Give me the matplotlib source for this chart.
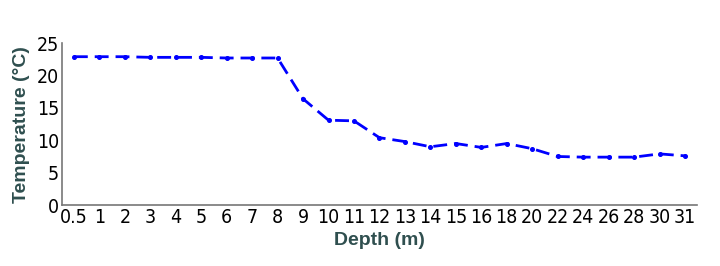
import matplotlib.pyplot as plt
from matplotlib import font_manager

# Data
depths = ['0.5', '1', '2', '3', '4', '5', '6', '7', '8', '9', '10', '11', '12', '13',
          '14', '15', '16', '18', '20', '22', '24', '26', '28', '30', '31']
temps = [22.9, 22.9, 22.9, 22.8, 22.8, 22.8, 22.7, 22.7, 22.7, 16.4, 13.1, 13.0, 10.4, 9.8,
         9.0, 9.5, 8.9, 9.5, 8.7, 7.5, 7.4, 7.4, 7.4, 7.9, 7.6]

# prefer a narrow face if one is installed
fonts = font_manager.fontManager.ttflist
narrow = [f for f in fonts if 'Narrow' in f.name or f.stretch == 'condensed']
tick_font = None
if narrow:
    pick = [f for f in narrow if f.weight in (400, 'normal') and f.style == 'normal']
    if pick:
        tick_font = font_manager.FontProperties(fname=pick[0].fname, size=14)
plt.rcParams['font.family'] = ['Liberation Sans', 'DejaVu Sans']

fig = plt.figure(figsize=(7.2, 2.66), dpi=100)
ax = fig.add_axes([0.086, 0.229, 0.882, 0.609])

x = list(range(len(depths)))
ax.plot(x, temps, color='#0000ff', linestyle=(0, (5, 2.5)), linewidth=2,
        marker='o', markersize=2.6)

ax.set_xlim(-0.47, len(depths) - 0.53)
ax.set_ylim(0, 25)
ax.set_xticks(x)
ax.set_xticklabels(depths)
ax.set_yticks([0, 5, 10, 15, 20, 25])
ax.tick_params(length=0, labelsize=14, pad=2)
if tick_font is not None:
    for lab in ax.get_xticklabels() + ax.get_yticklabels():
        lab.set_fontproperties(tick_font)

for s in ['top', 'right']:
    ax.spines[s].set_visible(False)
for s in ['left', 'bottom']:
    ax.spines[s].set_color('#777777')
    ax.spines[s].set_linewidth(1.2)

ax.set_xlabel('Depth (m)', fontsize=14, fontweight='bold', color='#2f4f4f', labelpad=4)
ax.set_ylabel('Temperature (°C)', fontsize=14, fontweight='bold', color='#2f4f4f', labelpad=5)

fig.savefig('out.png', dpi=100)
